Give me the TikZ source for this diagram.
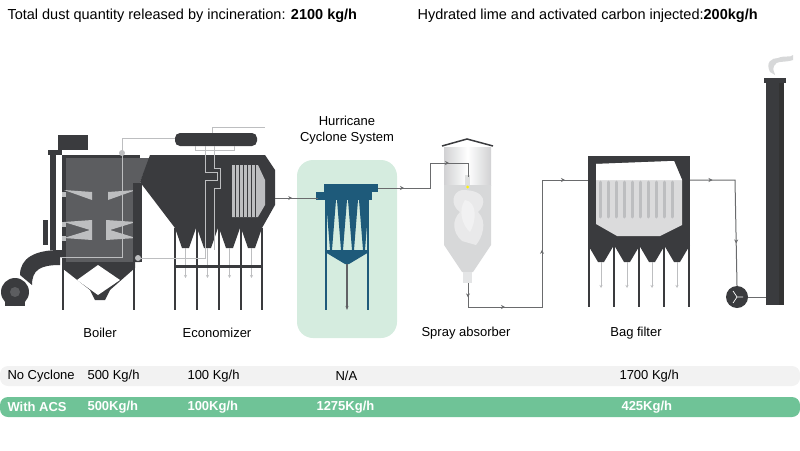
\documentclass[tikz,border=0pt]{standalone}
\usepackage{fontspec}
\setmainfont{Liberation Sans}
\usetikzlibrary{arrows.meta,decorations.markings}
\definecolor{dk}{HTML}{3A3B3E}
\definecolor{mid}{HTML}{5C5D60}
\definecolor{lg}{HTML}{BDBEC0}
\definecolor{bl}{HTML}{1E5A7A}
\definecolor{gbg}{HTML}{D5ECDF}
\definecolor{gr}{HTML}{6FC397}
\definecolor{row}{HTML}{F2F2F2}
\definecolor{pipe}{HTML}{6A6B6D}
\tikzset{
 pipe/.style={draw=pipe,line width=1pt},
 flow/.style={pipe,postaction={decorate},decoration={markings,mark=at position #1 with {\arrow{Stealth[length=4pt,width=4pt]}}}},
 flow/.default=0.5,
 lab/.style={font=\fontsize{13}{16}\selectfont,text=black},
 cell/.style={font=\fontsize{13}{15}\selectfont,anchor=west},
 hot/.style={cell,text=white,font=\fontsize{13}{15}\selectfont\bfseries},
 leg/.style={draw=dk,line width=2pt},
 drop/.style={draw=lg,line width=1pt,-{Stealth[length=3pt,width=3pt]}},
}
\begin{document}
\begin{tikzpicture}[x=1pt,y=-1pt]
\useasboundingbox (0,0) rectangle (800,450);
% top texts
\node[anchor=west,font=\fontsize{14.5}{17}\selectfont] (t1) at (4,16) {Total dust quantity released by incineration: \textbf{2100 kg/h}};
\node[anchor=west,font=\fontsize{14.5}{17}\selectfont] (t2) at (414,16) {Hydrated lime and activated carbon injected:\textbf{200kg/h}};
% ---------- boiler
\fill[dk] (58,135) rectangle (88,150);
\fill[dk] (48,150) rectangle (62,155);
\fill[dk] (50,150) rectangle (56,250);
\fill[dk] (43,220) rectangle (48,245);
\fill[dk] (56,250) -- (62,250) -- (62,258) -- (56,258) -- cycle;
\fill[dk] (20,275) .. controls (20,258) and (35,250) .. (60,250) -- (60,265) .. controls (40,265) and (32,270) .. (32,285) -- cycle;
\fill[dk] (15,292) circle (14);
\fill[mid] (15,292) circle (5);
\fill[dk] (5,300) rectangle (25,306);
\fill[dk] (62,155) rectangle (140,262);
\fill[mid] (66,158) -- (150,158) -- (140,182) -- (140,262) -- (66,262) -- cycle;
\fill[dk] (62,262) -- (135,262) -- (135,268) -- (110,290) -- (105,300) -- (95,300) -- (90,290) -- (62,268) -- cycle;
\fill[white] (77,280) -- (98,265) -- (120,280) -- (98,295) -- cycle;
\draw[leg] (63,262) -- (63,310); \draw[leg] (134,262) -- (134,310);
\foreach \y in {192,222,236}{
 \fill[lg] (62,\y) rectangle (66,\y+5);
 \fill[lg] (134,\y) rectangle (138,\y+5);
}
\fill[lg] (64,190) -- (92,192) -- (92,200) -- cycle;
\fill[lg] (136,190) -- (108,192) -- (108,200) -- cycle;
\fill[lg] (64,222) -- (92,220) -- (92,240) -- (64,238) -- (90,230) -- cycle;
\fill[lg] (136,222) -- (106,220) -- (106,240) -- (136,238) -- (110,230) -- cycle;
% ---------- economizer
\fill[dk] (150,155) -- (265,155) -- (275,170) -- (275,205) -- (262,228) -- (175,228) -- (140,182) -- cycle;
\fill[dk] (133,183) rectangle (142,262);
\fill[lg] (232,165) -- (258,165) -- (265,180) -- (265,205) -- (258,217) -- (232,217) -- cycle;
\foreach \x in {235,239,...,255} \draw[dk,line width=1pt] (\x,165) -- (\x,217);
\foreach \x in {175,197,219,241}{
 \fill[dk] (\x,228) -- (\x+21,228) -- (\x+14,248) -- (\x+7,248) -- cycle;
 \draw[drop] (\x+10.5,248) -- (\x+10.5,278);
}
\fill[dk] (174,265) rectangle (263,268);
\foreach \x in {175,197,219,241,262} \draw[leg] (\x,228) -- (\x,310);
% drum & piping
\fill[dk,rounded corners=5pt] (175,133) rectangle (257,146);
\draw[lg,line width=1pt] (212,133) -- (212,127) -- (265,127);
\draw[lg,line width=1pt] (122,153) -- (122,138) -- (175,138);
\draw[lg,line width=1pt] (122,153) -- (122,257) -- (60,257);
\fill[lg] (122,153) circle (3);
\draw[lg,line width=1pt] (195,146) -- (195,150) -- (234,150) -- (234,146);
\draw[lg,line width=1pt] (205,146) -- (205,172) -- (217,172) -- (217,180) -- (205,180) -- (205,258) -- (138,258);
\draw[lg,line width=1pt] (214,146) -- (214,168) -- (220,168) -- (220,188) -- (214,188) -- (214,250);
\fill[lg] (138,258) circle (3);
% ---------- cyclone
\node[lab,align=center] (hcs) at (347,130) {Hurricane\\Cyclone System};
\fill[gbg,rounded corners=16pt] (297,160) rectangle (397,338);
\fill[bl] (324,184) rectangle (378,192);
\fill[bl] (316,192) rectangle (372,200);
\foreach \x in {326,337,348,359}{
 \fill[bl] (\x,200) -- (\x+10,200) -- (\x+6,250) -- (\x+4,250) -- cycle;
}
\fill[bl] (325,250) rectangle (369,252);
\fill[bl] (325,252) -- (369,252) -- (349,264) -- (345,264) -- cycle;
\draw[bl,line width=1.5pt] (326,200) -- (326,310); \draw[bl,line width=1.5pt] (368,200) -- (368,310);
\draw[dk!80,line width=1.5pt,-{Stealth[length=4pt]}] (347,264) -- (347,310);
% ---------- spray absorber
\shade[left color=lg!70,right color=lg!70,middle color=white] (444,147) rectangle (491,185);
\fill[lg!60] (444,185) -- (491,185) -- (491,245) -- (473,272) -- (462,272) -- (444,245) -- cycle;
\fill[lg!40] (463,272) rectangle (472,283);
\draw[dk,line width=1.5pt] (442,146) -- (467,139) -- (493,146);
\fill[white,opacity=0.45] (462,190) .. controls (488,190) and (486,205) .. (478,212) .. controls (488,222) and (482,238) .. (476,245) -- (462,241) .. controls (452,232) and (452,220) .. (460,212) .. controls (450,205) and (452,192) .. (462,190) -- cycle;
\fill[white,opacity=0.4] (465,200) .. controls (478,202) and (476,222) .. (470,232) .. controls (462,225) and (458,210) .. (465,200) -- cycle;
\fill[lg!50] (465,175) rectangle (470,185);
\fill[yellow] (467.5,187) circle (1.5);
% ---------- bag filter
\fill[dk] (588,156) rectangle (690,245);
\fill[lg!55] (596,164) -- (674,161) -- (682,180) -- (682,225) -- (660,236) -- (617,236) -- (596,224) -- cycle;
\fill[white] (596,164) -- (674,161) -- (682,180) -- (596,180) -- cycle;
\foreach \x in {600,608,...,678} \draw[lg,line width=3pt,line cap=round] (\x,182) -- (\x,217);
\foreach \x in {588,614,639,664}{
 \fill[dk] (\x,245) -- (\x+26,245) -- (\x+16,262) -- (\x+10,262) -- cycle;
 \draw[drop] (\x+13,262) -- (\x+13,288);
}
\foreach \x in {589,614,639,664,689} \draw[leg] (\x,245) -- (\x,307);
% ---------- stack
\fill[lg!60] (770,72) .. controls (765,62) and (772,58) .. (778,58) .. controls (785,55) and (790,58) .. (793,55) -- (793,60) .. controls (785,63) and (776,60) .. (774,66) .. controls (772,70) and (775,73) .. (775,75) -- cycle;
\fill[dk] (764,78) rectangle (786,83);
\fill[dk] (766,83) rectangle (784,305);
\fill[black!80] (779,83) rectangle (784,305);
\node[circle,fill=dk,minimum size=22pt,inner sep=0pt] (fan) at (737,297) {};
\draw[white,line width=0.7pt] (737,297) -- (743,297) (737,297) -- (733,291) (737,297) -- (733,303);
% ---------- pipes
\coordinate (a1) at (275,198); \coordinate (a2) at (318,198);
\draw[flow=0.4] (a1) -- (a2);
\coordinate (b1) at (378,188); \coordinate (b2) at (430,188);\coordinate (b3) at (430,163);\coordinate (b4) at (468,163);\coordinate (b5) at (468,177);
\draw[pipe] (b1) -- (b2) -- (b3) -- (b4) -- (b5);
\draw[flow=0.5,draw=none] (b1) -- (b2); \draw[flow=0.5,draw=none] (b3) -- (b4);
\coordinate (c1) at (468,283); \coordinate (c2) at (468,307); \coordinate (c3) at (542,307); \coordinate (c4) at (542,180); \coordinate (c5) at (588,180);
\draw[pipe] (c1) -- (c2) -- (c3) -- (c4) -- (c5);
\draw[flow=0.6,draw=none] (c1) -- (c2); \draw[flow=0.5,draw=none] (c2) -- (c3);
\draw[flow=0.45,draw=none] (c3) -- (c4); \draw[flow=0.5,draw=none] (c4) -- (c5);
\coordinate (d1) at (690,180); \coordinate (d2) at (735,180);
\draw[pipe] (d1) -- (d2) -- (fan.north);
\draw[flow=0.5,draw=none] (d1) -- (d2); \draw[flow=0.6,draw=none] (d2) -- (fan.north);
\draw[pipe] (fan.east) -- (766,297);
% ---------- labels
\node[lab] (lb1) at (100,333) {Boiler};
\node[lab] (lb2) at (217,333) {Economizer};
\node[lab] (lb3) at (466,333) {Spray absorber};
\node[lab] (lb4) at (636,333) {Bag filter};
% ---------- rows
\fill[row,rounded corners=8pt] (0,366) rectangle (800,386);
\fill[gr,rounded corners=8pt] (0,397) rectangle (800,417);
\node[cell] at (4,376) {No Cyclone};
\node[cell] at (84,376) {500 Kg/h};
\node[cell] at (184,376) {100 Kg/h};
\node[cell] at (332,376) {N/A};
\node[cell] at (616,376) {1700 Kg/h};
\node[hot] at (4,407) {With ACS};
\node[hot] at (84,407) {500Kg/h};
\node[hot] at (184,407) {100Kg/h};
\node[hot] at (313,407) {1275Kg/h};
\node[hot] at (618,407) {425Kg/h};
\end{tikzpicture}
\end{document}
